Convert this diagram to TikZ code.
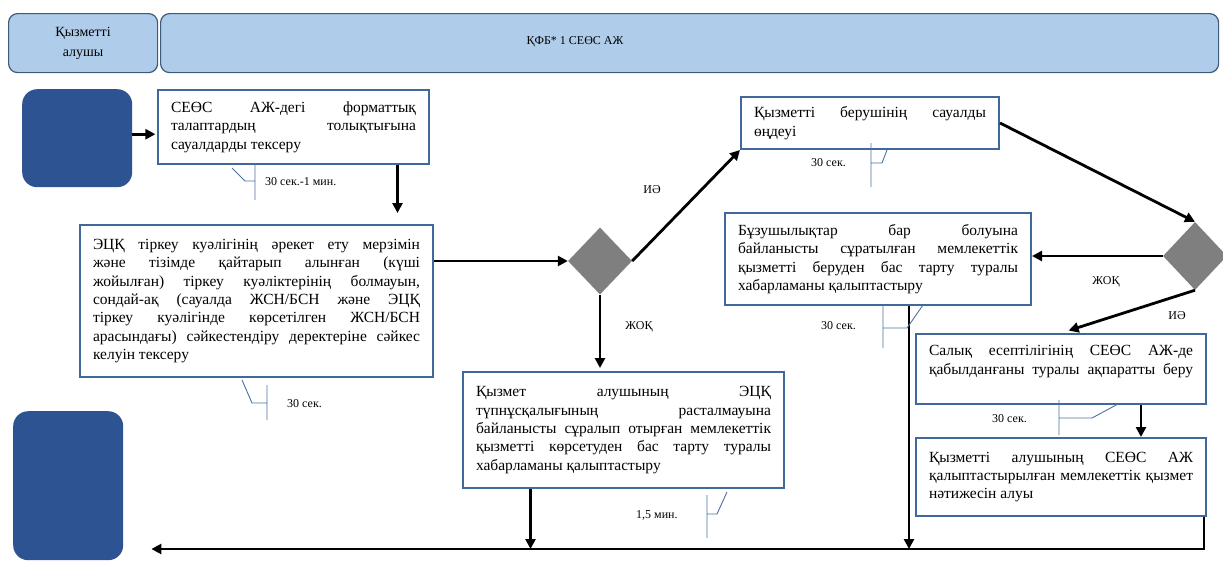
\documentclass[tikz,border=0pt]{standalone}
\usepackage{fontspec}
\setmainfont{Liberation Serif}
\usetikzlibrary{arrows.meta,shapes.geometric}
\definecolor{hdrfill}{HTML}{AFCCEA}
\definecolor{hdrline}{HTML}{3D5A7A}
\definecolor{termfill}{HTML}{2E5392}
\definecolor{boxline}{HTML}{41689A}
\definecolor{decfill}{HTML}{7F7F7F}
\definecolor{tickline}{HTML}{4A72A0}
\tolerance=10000
\hbadness=10000

\begin{document}
\begin{tikzpicture}[x=1pt,y=-1pt,>={Triangle[length=10pt,width=10pt]},
  every node/.style={font=\fontsize{15.5}{18.3}\selectfont},
  hdr/.style={draw=hdrline,fill=hdrfill,rounded corners=9pt,line width=1.2pt,anchor=north west,inner sep=0pt},
  term/.style={fill=termfill,rounded corners=15pt,anchor=north west,inner sep=0pt},
  box/.style={draw=boxline,line width=2pt,fill=white,anchor=north west,align=justify,inner xsep=13pt,inner ysep=0pt},
  dec/.style={diamond,fill=decfill,inner sep=0pt},
  flow/.style={->,line width=2.8pt},
  tick/.style={draw=tickline,line width=0.9pt},
  note/.style={font=\fontsize{12}{14}\selectfont,anchor=west,inner sep=0pt},
  lbl/.style={font=\fontsize{12}{14}\selectfont,inner sep=0pt}]
\useasboundingbox (0,0) rectangle (1223,571);

% swimlane headers
\node[hdr,minimum width=149,minimum height=59,align=center,font=\fontsize{14}{20}\selectfont] (hrecv) at (8,13) {Қызметті\\алушы};
\node[hdr,minimum width=1058,minimum height=59] (hsys) at (160,13) {};
\node[font=\fontsize{12}{14}\selectfont] (hsystxt) at (575,42) {ҚФБ* 1 СЕӨС АЖ};

% start and end
\node[term,minimum width=110,minimum height=98] (recv) at (22,89) {};
\node[term,minimum width=110,minimum height=149] (recvend) at (13,411) {};

% process steps
\node[box,text width=245,minimum height=74] (check) at (157,89) {СЕӨС АЖ-дегі форматтық \linebreak талаптардың толықтығына \linebreak сауалдарды тексеру};
\node[box,text width=327,minimum height=152] (verify) at (79,224) {ЭЦҚ тіркеу куәлігінің әрекет ету мерзімін \linebreak және тізімде қайтарып алынған (күші \linebreak жойылған) тіркеу куәліктерінің болмауын, \linebreak сондай-ақ (сауалда ЖСН/БСН және ЭЦҚ \linebreak тіркеу куәлігінде көрсетілген ЖСН/БСН \linebreak арасындағы) сәйкестендіру деректеріне сәйкес \linebreak келуін тексеру};
\node[box,text width=232,minimum height=52] (process) at (740,96) {Қызметті берушінің сауалды \linebreak өңдеуі};
\node[box,text width=295,minimum height=116] (refuse1) at (462,371) {Қызмет алушының ЭЦҚ \linebreak түпнұсқалығының расталмауына \linebreak байланысты сұралып отырған мемлекеттік \linebreak қызметті көрсетуден бас тарту туралы \linebreak хабарламаны қалыптастыру};
\node[box,text width=280,minimum height=92] (refuse2) at (724,212) {Бұзушылықтар бар болуына \linebreak байланысты сұратылған мемлекеттік \linebreak қызметті беруден бас тарту туралы \linebreak хабарламаны қалыптастыру};
\node[box,text width=264,minimum height=70] (inform) at (915,333) {Салық есептілігінің СЕӨС АЖ-де \linebreak қабылданғаны туралы ақпаратты беру \linebreak \mbox{}};
\node[box,text width=264,minimum height=78] (result) at (915,437) {Қызметті алушының СЕӨС АЖ \linebreak қалыптастырылған мемлекеттік қызмет \linebreak нәтижесін алуы};

% decisions
\node[dec,minimum width=64,minimum height=67] (dec1) at (600,261) {};
\node[dec,minimum width=64,minimum height=68] (dec2) at (1195,256) {};

% flow
\coordinate (ret) at (1204,549);
\coordinate (c1) at ([xshift=104]check.south);
\coordinate (r1) at ([xshift=31]refuse2.south);
\coordinate (r2) at ([xshift=-93]refuse1.south);
\coordinate (r3) at ([xshift=80]inform.south);
\draw[flow] ([yshift=4]recv.east) -- ++(23,0);
\draw[flow,shorten >=11] (c1) -- (c1 |- verify.north);
\draw[flow] (verify.east |- dec1.west) -- (dec1.west);
\draw[flow] (dec1.east) -- (process.south west);
\draw[flow,shorten >=3] (dec1.south) -- (dec1.south |- refuse1.north);
\draw[flow] (process.east) -- (dec2.north);
\draw[flow] (dec2.west) -- (dec2.west -| refuse2.east);
\draw[flow,shorten >=8] (dec2.south) -- (inform.north);
\draw[flow] (r3) -- (r3 |- result.north);
\draw[flow] (r1) -- (r1 |- ret);
\draw[flow] (r2) -- (r2 |- ret);
\draw[flow,shorten >=28] (ret |- result.south) -- (ret) -- (ret -| recvend.east);

\node[lbl] (yes1) at (652,190) {ИӘ};
\node[lbl] (no1) at (639,327) {ЖОҚ};
\node[lbl] (no2) at (1106,282) {ЖОҚ};
\node[lbl] (yes2) at (1177,316) {ИӘ};

% time callouts
\draw[tick] (255,163) -- (255,200) (232,168) -- (245,181) -- (255,181);
\node[note] (t1) at (265,182) {30 сек.-1 мин.};
\draw[tick] (267,385) -- (267,420) (242,380) -- (252,403) -- (267,403);
\node[note] (t2) at (287,404) {30 сек.};
\draw[tick] (871,143) -- (871,187) (871,163) -- (882,163) -- (887,150);
\node[note] (t3) at (811,163) {30 сек.};
\draw[tick] (883,305) -- (883,348) (883,328) -- (907,328) -- (923,305);
\node[note] (t4) at (821,326) {30 сек.};
\draw[tick] (1059,400) -- (1059,435) (1059,418) -- (1092,418) -- (1118,404);
\node[note] (t5) at (992,419) {30 сек.};
\draw[tick] (707,495) -- (707,538) (707,514) -- (717,514) -- (727,492);
\node[note] (t6) at (636,515) {1,5 мин.};
\end{tikzpicture}
\end{document}
